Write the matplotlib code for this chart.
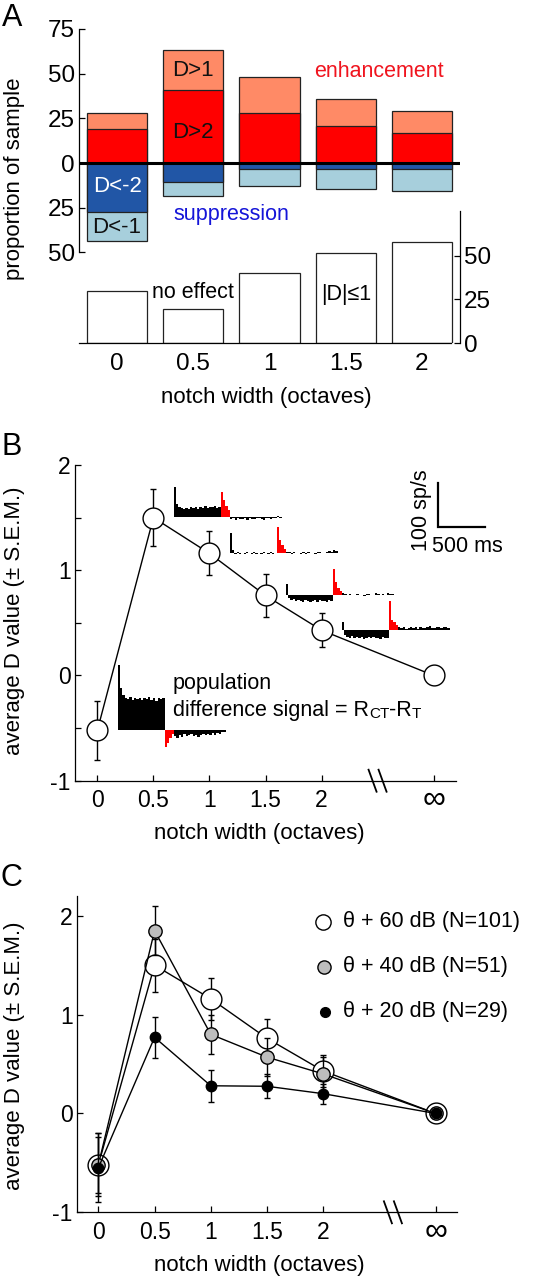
import numpy as np
import matplotlib
matplotlib.use('Agg')
import matplotlib.pyplot as plt
from matplotlib.transforms import Affine2D, ScaledTranslation

plt.rcParams['font.family'] = ['Liberation Sans', 'DejaVu Sans']

W, H = 548, 1280
fig = plt.figure(figsize=(W / 100, H / 100), dpi=100)


def px_axes(l, t, r, b):
    return fig.add_axes([l / W, 1 - b / H, (r - l) / W, (b - t) / H])


def ftext(x, y, s, **kw):
    return fig.text(x / W, 1 - y / H, s, **kw)

# ---------------- data ----------------
cats_A = ['0', '0.5', '1', '1.5', '2']
enh_D1 = [28, 63.5, 48, 36, 29]       # D>1 (total enhancement)
enh_D2 = [19, 41, 28, 21, 17]         # D>2
sup_D1 = [43.5, 18.5, 13, 14.5, 15.5]  # D<-1 (total suppression)
sup_D2 = [27.5, 10.5, 3.5, 3.5, 3.5]   # D<-2
no_effect = [30, 19.5, 40, 51.5, 58]   # |D|<=1

notch = [0, 0.5, 1, 1.5, 2, 3]
notch_labels = ['0', '0.5', '1', '1.5', '2', '∞']
D60 = [-0.52, 1.50, 1.16, 0.76, 0.43, 0.0]
D60_sem = [0.28, 0.27, 0.21, 0.20, 0.16, 0.0]
D40 = [-0.52, 1.85, 0.80, 0.57, 0.40, 0.0]
D40_sem = [0.32, 0.25, 0.20, 0.19, 0.17, 0.0]
D20 = [-0.55, 0.77, 0.28, 0.275, 0.20, 0.0]
D20_sem = [0.35, 0.21, 0.16, 0.12, 0.10, 0.0]

# population difference PSTHs (sp/s, 25 ms bins): cue / transition / post
bin_ms = 25
psth_cue = [
    [146, 95, 78, 72, 70, 74, 68, 71, 69, 73, 67, 72, 70, 75, 68, 71, 66, 73, 70, 72],
    [68, 30, 22, 20, 18, 21, 19, 23, 20, 24, 19, 22, 21, 25, 20, 23, 22, 26, 21, 24],
    [45, 6, -2, 1, -3, 0, -2, 2, -1, -3, 1, -2, 0, -3, 2, -1, -2, 1, -3, 0],
    [25, -8, -12, -10, -14, -11, -13, -15, -12, -14, -16, -13, -11, -15, -12, -14, -13, -16, -12, -14],
    [17, -12, -16, -18, -15, -20, -17, -19, -16, -21, -18, -17, -20, -16, -19, -18, -22, -17, -19, -18],
]
psth_trans = [
    [-39, -30, -18, -10],
    [58, 38, 25, 15],
    [58, 30, 18, 8],
    [58, 30, 15, 10],
    [65, 22, 18, 10],
]
psth_post = [
    [-14, -18, -12, -16, -10, -15, -13, -9, -14, -11, -16, -12, -10, -13, -9, -12, -8, -11, -7, -9, -6, -5],
    [-4, -3, -6, -2, -5, -4, -3, -6, -2, -4, -5, -3, -2, -4, -6, -3, -2, -5, -1, -3, 2, -2],
    [3, 1, -2, 2, -1, 0, -3, 1, -2, 2, 0, -1, -2, 1, 3, -1, 0, 2, 5, 3, 7, 4],
    [4, 2, 0, 3, 1, -1, 2, 0, 1, -2, 2, 3, 0, 1, 4, 2, 1, 3, 0, 5, 2, 3],
    [5, 3, 6, 2, 4, 7, 3, 5, 2, 6, 4, 3, 5, 8, 4, 3, 6, 5, 4, 7, 5, 4],
]

# ---------------- colours ----------------
c_light_red = '#FF8A66'
c_red = '#FF0000'
c_dark_blue = '#2156A6'
c_light_blue = '#A7CFDC'
c_edge = '#222222'

TICK_A = 17.5
TICK_BC = 16.5
LAB = 16
ANN = 15.5

# ================= Panel A =================
axA = px_axes(79, 29, 460, 343)
axA2 = px_axes(79, 29, 460, 343)
xA = np.arange(len(cats_A))
bw = 0.79
axA.bar(xA, enh_D1, bw, color=c_light_red, edgecolor=c_edge, lw=0.9, zorder=2)
axA.bar(xA, enh_D2, bw, color=c_red, edgecolor=c_edge, lw=0.9, zorder=3)
axA.bar(xA, [-v for v in sup_D1], bw, color=c_light_blue, edgecolor=c_edge, lw=0.9, zorder=2)
axA.bar(xA, [-v for v in sup_D2], bw, color=c_dark_blue, edgecolor=c_edge, lw=0.9, zorder=3)
axA.axhline(0, color='black', lw=2.2, zorder=4)
axA.set_xlim(-0.5, 4.5)
axA.set_ylim(-100.7, 75)
for s in ['top', 'right', 'bottom']:
    axA.spines[s].set_visible(False)
axA.spines['left'].set_bounds(-50, 75)
axA.spines['left'].set_linewidth(0.9)
axA.set_yticks([-50, -25, 0, 25, 50, 75])
axA.set_yticklabels(['50', '25', '0', '25', '50', '75'])
axA.tick_params(axis='y', direction='in', length=4, width=0.9, labelsize=TICK_A, pad=3)
axA.set_xticks([])
axA.patch.set_visible(False)

axA.text(3.43, 51, 'enhancement', color='#F0141E', fontsize=ANN, ha='center', va='center')
axA.text(1.5, -29, 'suppression', color='#1515D8', fontsize=ANN, ha='center', va='center')
axA.text(1.0, 51.5, 'D>1', fontsize=16, ha='center', va='center', color='#111111', zorder=5)
axA.text(1.0, 17.3, 'D>2', fontsize=16, ha='center', va='center', color='#111111', zorder=5)
axA.text(0, -13.4, 'D<-2', fontsize=16, ha='center', va='center', color='white', zorder=5)
axA.text(0, -35.8, 'D<-1', fontsize=16, ha='center', va='center', color='#111111', zorder=5)

axA2.bar(xA, no_effect, bw, color='white', edgecolor=c_edge, lw=0.9)
axA2.set_xlim(-0.5, 4.5)
axA2.set_ylim(0, 179.8)
axA2.patch.set_visible(False)
axA2.spines['top'].set_visible(False)
axA2.spines['left'].set_visible(False)
axA2.spines['right'].set_bounds(0, 75.8)
axA2.spines['bottom'].set_bounds(-0.5, 4.38)
axA2.spines['right'].set_linewidth(0.9)
axA2.spines['bottom'].set_linewidth(0.9)
axA2.yaxis.tick_right()
axA2.set_yticks([0, 25, 50])
axA2.tick_params(axis='y', direction='in', length=4, width=0.9, labelsize=TICK_A, pad=3)
axA2.set_xticks(xA)
axA2.set_xticklabels(cats_A)
axA2.tick_params(axis='x', length=0, labelsize=TICK_A, pad=7)
axA2.text(1.0, 28.8, 'no effect', fontsize=ANN, ha='center', va='center')
axA2.text(3.0, 27.7, '|D|≤1', fontsize=ANN, ha='center', va='center')

ftext(15, 179, 'proportion of sample', rotation=90, fontsize=LAB, ha='center', va='center')
ftext(266, 398, 'notch width (octaves)', fontsize=LAB, ha='center', va='center')
ftext(2, 3, 'A', fontsize=22, ha='left', va='top')


def style_line_axes(ax, xlim, ylim):
    ax.set_xlim(*xlim)
    ax.set_ylim(*ylim)
    ax.spines['top'].set_visible(False)
    ax.spines['right'].set_visible(False)
    ax.spines['left'].set_linewidth(0.9)
    ax.spines['bottom'].set_linewidth(0.9)
    ax.set_xticks(notch)
    ax.set_xticklabels(notch_labels)
    ax.set_yticks([-1, 0, 1, 2])
    ax.set_yticklabels(['-1', '0', '1', '2'])
    ax.tick_params(direction='in', length=4, width=0.9, labelsize=TICK_BC)
    ax.tick_params(axis='y', pad=3)
    ax.tick_params(axis='x', pad=6)
    ax.patch.set_visible(False)


def raise_inf_label(ax):
    lab = ax.get_xticklabels()[-1]
    lab.set_fontsize(23)
    lab.set_transform(lab.get_transform() + ScaledTranslation(0, 4 / 100, fig.dpi_scale_trans))


def break_marks(ax, xb):
    # two slanted strokes crossing the bottom spine
    tr = ax.transData
    inv = ax.transData.inverted()
    x0, y0 = tr.transform((xb, ax.get_ylim()[0]))
    for dx in (-5, 5):
        p1 = inv.transform((x0 + dx - 4, y0 + 11))
        p2 = inv.transform((x0 + dx + 4, y0 - 11))
        ax.plot([p1[0], p2[0]], [p1[1], p2[1]], color='black', lw=1.3, clip_on=False)

# ================= Panel B =================
axB = px_axes(75, 465, 456, 780.7)
style_line_axes(axB, (-0.2, 3.2), (-1, 2))
axB.set_yticks([-0.5, 0.5, 1.5], minor=True)
axB.tick_params(which='minor', direction='in', length=4, width=0.9)
axB.errorbar(notch[:-1], D60[:-1], yerr=D60_sem[:-1], fmt='none', ecolor='black',
             elinewidth=1, capsize=2.5, capthick=1, zorder=3)
axB.plot(notch, D60, '-', color='black', lw=1, zorder=4)
axB.plot(notch, D60, 'o', ms=15, mfc='white', mec='black', mew=1, zorder=5)
fig.canvas.draw()
break_marks(axB, 2.5)

# inset PSTHs: scale 500 ms = 47 px, 100 sp/s = 44 px
px_per_x = 381 / 3.4
px_per_y = 315.7 / 3.0
sx = (47 / 500) / px_per_x
sy = (44 / 100) / px_per_y
for i in range(5):
    x0 = notch[i] + 0.18
    y0 = D60[i] + 0.005
    tr = Affine2D().scale(sx, sy).translate(x0, y0) + axB.transData
    n1, n2, n3 = len(psth_cue[i]), len(psth_trans[i]), len(psth_post[i])
    e1 = np.arange(n1 + 1) * bin_ms
    e2 = e1[-1] + np.arange(n2 + 1) * bin_ms
    e3 = e2[-1] + np.arange(n3 + 1) * bin_ms
    axB.stairs(psth_cue[i], e1, baseline=0, fill=True, color='black', lw=0.5, transform=tr, zorder=2)
    axB.stairs(psth_trans[i], e2, baseline=0, fill=True, color='#FF0000', lw=0.5, transform=tr, zorder=2)
    axB.stairs(psth_post[i], e3, baseline=0, fill=True, color='black', lw=0.5, transform=tr, zorder=2)

# scale bar
tr_sb = Affine2D().scale(sx, sy).translate(3.042, 1.408) + axB.transData
axB.plot([0, 0, 500], [100, 0, 0], color='black', lw=1.6, transform=tr_sb, clip_on=False,
         solid_joinstyle='miter')
ftext(421.5, 510.5, '100 sp/s', rotation=90, fontsize=ANN, ha='center', va='center')
ftext(467.5, 546, '500 ms', fontsize=ANN, ha='center', va='center')

axB.text(0.673, -0.076, 'population', fontsize=ANN, ha='left', va='center')
t1 = axB.text(0.673, -0.336, 'difference signal = R', fontsize=ANN, ha='left', va='center')
t2 = axB.annotate('CT', xy=(1, 0), xycoords=t1, fontsize=11, ha='left', va='bottom')
t3 = axB.annotate('-R', xy=(1, 0), xycoords=t2, fontsize=ANN, ha='left', va='bottom')
axB.annotate('T', xy=(1, 0), xycoords=t3, fontsize=11, ha='left', va='bottom')

ftext(15, 621, 'average D value (± S.E.M.)', rotation=90, fontsize=LAB, ha='center', va='center')
ftext(259, 833, 'notch width (octaves)', fontsize=LAB, ha='center', va='center')
ftext(1, 432, 'B', fontsize=22, ha='left', va='top')

# ================= Panel C =================
axC = px_axes(77, 896, 457, 1212.3)
style_line_axes(axC, (-0.19, 3.19), (-1, 2.2))
series = [
    (D60, D60_sem, dict(ms=15, mfc='white'), 11),
    (D40, D40_sem, dict(ms=9.6, mfc='#BDBDBD'), 9.5),
    (D20, D20_sem, dict(ms=7.5, mfc='black'), 7),
]
labels_C = ['θ + 60 dB (N=101)', 'θ + 40 dB (N=51)', 'θ + 20 dB (N=29)']
for k, (d, e, mk, _) in enumerate(series):
    z = 3 + 3 * k
    axC.errorbar(notch[:-1], d[:-1], yerr=e[:-1], fmt='none', ecolor='black',
                 elinewidth=1, capsize=2.5, capthick=1, zorder=z)
    axC.plot(notch, d, '-', color='black', lw=1, zorder=z + 1)
    axC.plot(notch, d, 'o', mec='black', mew=1, zorder=z + 2, **mk)
fig.canvas.draw()
break_marks(axC, 2.62)

leg_px = [(323, 921.7), (323.7, 966.7), (325, 1011.7)]
for (px, py), (d, e, mk, lms), lab in zip(leg_px, series, labels_C):
    ax_x = (px - 77) / 380
    ax_y = (1212.3 - py) / 316.3
    axC.plot([ax_x], [ax_y], 'o', ms=lms, mfc=mk['mfc'], mec='black', mew=1,
             transform=axC.transAxes, clip_on=False)
    axC.text((343 - 77) / 380, ax_y, lab, fontsize=ANN, ha='left', va='center',
             transform=axC.transAxes)

ftext(15, 1056, 'average D value (± S.E.M.)', rotation=90, fontsize=LAB, ha='center', va='center')
ftext(259, 1265, 'notch width (octaves)', fontsize=LAB, ha='center', va='center')
ftext(0, 863, 'C', fontsize=22, ha='left', va='top')

raise_inf_label(axB)
raise_inf_label(axC)

fig.savefig('out.png', dpi=100)
